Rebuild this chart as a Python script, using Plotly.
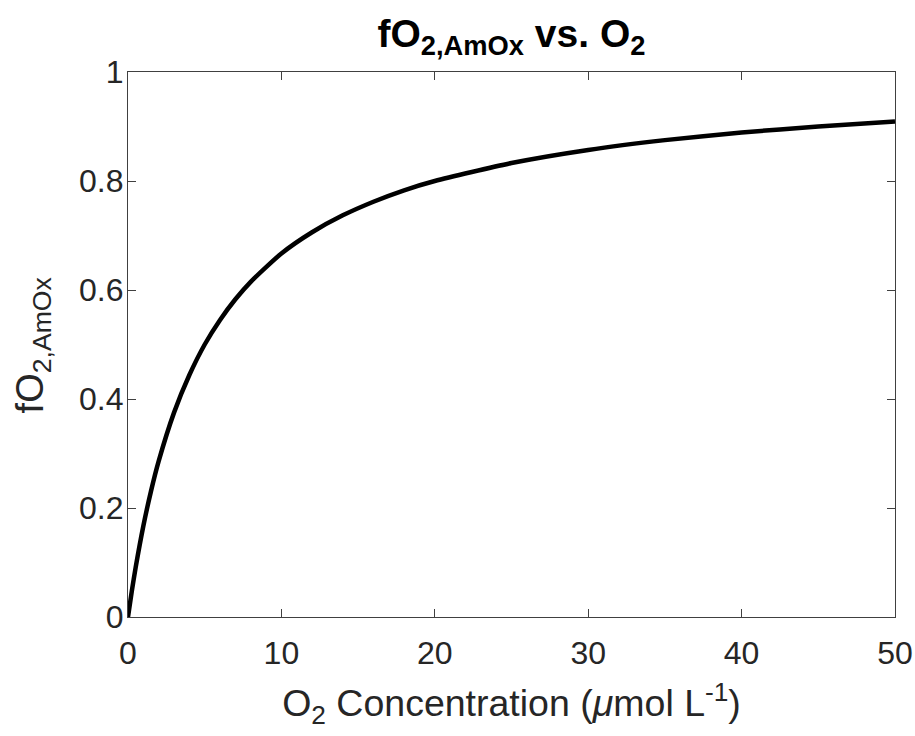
import plotly.graph_objects as go

# O2 concentration (umol/L) and the fraction of maximal ammonia-oxidation rate
o2_conc = [0, 0.25, 0.5, 1, 1.5, 2, 3, 4, 5, 6, 7, 8, 10, 12, 14, 16, 18, 20,
           25, 30, 35, 40, 45, 50]
f_o2_amox = [0, 0.048, 0.091, 0.167, 0.231, 0.286, 0.375, 0.444, 0.5, 0.545,
             0.583, 0.615, 0.667, 0.706, 0.737, 0.762, 0.783, 0.8,
             0.833, 0.857, 0.875, 0.889, 0.9, 0.909]

x_ticks = [0, 10, 20, 30, 40, 50]
y_ticks = [0, 0.2, 0.4, 0.6, 0.8, 1]
y_tick_text = ["0", "0.2", "0.4", "0.6", "0.8", "1"]

FONT = "Liberation Sans, Arial, Helvetica, sans-serif"
TEXT = "#262626"
AXIS = "#404040"

fig = go.Figure()
fig.add_trace(go.Scatter(
    x=o2_conc, y=f_o2_amox, mode="lines",
    line=dict(color="black", width=4.5, shape="spline", smoothing=0.6),
    showlegend=False, hoverinfo="x+y",
))

axis_common = dict(
    showline=True, linecolor=AXIS, linewidth=1.2, mirror="ticks",
    ticks="inside", ticklen=8, tickwidth=1.2, tickcolor=AXIS,
    showgrid=False, zeroline=False, automargin=False,
    tickfont=dict(family=FONT, size=32, color=TEXT),
)

fig.update_layout(
    width=915, height=736,
    paper_bgcolor="white", plot_bgcolor="white",
    margin=dict(l=128, r=20, t=72, b=119),
    title=dict(
        text="<b>fO<sub>2,AmOx</sub> vs. O<sub>2</sub></b>",
        font=dict(family=FONT, size=39, color="black"),
        x=0.5, xref="paper", xanchor="center",
        y=0.955, yref="container", yanchor="middle",
    ),
    xaxis=dict(
        range=[0, 50], tickvals=x_ticks, ticktext=[str(v) for v in x_ticks],
        ticklabelstandoff=7,
        title=dict(text="O<sub>2</sub> Concentration (<i>μ</i>mol L<sup>-1</sup>)",
                   font=dict(family=FONT, size=37.5, color=TEXT), standoff=20),
        **axis_common,
    ),
    yaxis=dict(
        range=[0, 1], tickvals=y_ticks, ticktext=y_tick_text,
        ticklabelstandoff=-3,
        **axis_common,
    ),
)

# y-axis label placed as a rotated annotation to the left of the tick labels
fig.add_annotation(
    text="fO<sub>2,AmOx</sub>", textangle=-90,
    xref="paper", yref="paper", x=-0.124, y=0.5,
    xanchor="center", yanchor="middle", showarrow=False,
    font=dict(family=FONT, size=38, color=TEXT),
)

fig.write_html("out.html")
